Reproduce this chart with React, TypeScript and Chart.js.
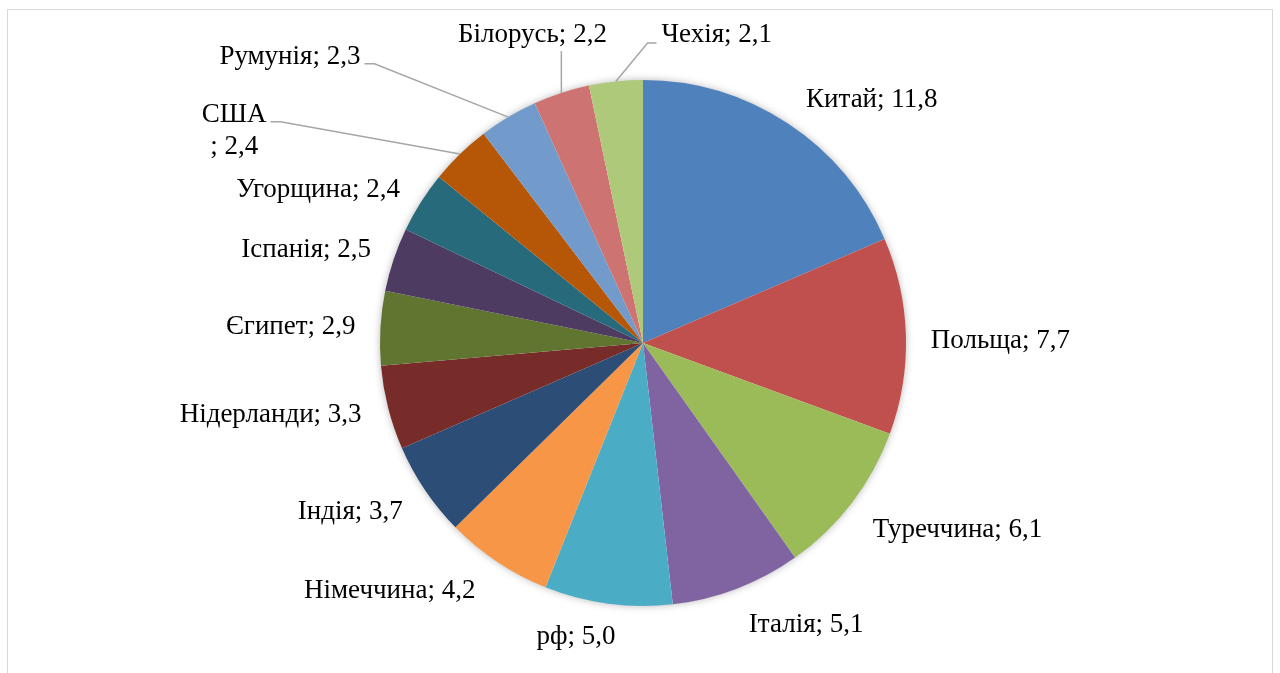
import { useEffect, useRef } from "react";
import { Chart, registerables } from "chart.js";

Chart.register(...registerables);

const countries = [
  "Китай",
  "Польща",
  "Туреччина",
  "Італія",
  "рф",
  "Німеччина",
  "Індія",
  "Нідерланди",
  "Єгипет",
  "Іспанія",
  "Угорщина",
  "США",
  "Румунія",
  "Білорусь",
  "Чехія",
];
const shares = [11.8, 7.7, 6.1, 5.1, 5.0, 4.2, 3.7, 3.3, 2.9, 2.5, 2.4, 2.4, 2.3, 2.2, 2.1];
const sliceColors = [
  "#4F81BD",
  "#C0504D",
  "#9BBB59",
  "#8064A2",
  "#4BACC6",
  "#F79646",
  "#2C4D75",
  "#772C2A",
  "#5F7530",
  "#4D3B62",
  "#276A7C",
  "#B65708",
  "#729ACA",
  "#CD7371",
  "#AFC97A",
];
// label layout tweaks (pixels) applied after default radial placement
const labelNudges: number[][] = [
  [36, 2], [3, 4], [21, 5], [41, 4], [-24, -1], [-48, 0], [-13, 1.5], [-8, -3],
  [-3, -1], [-5, -1], [-15, 3], [-188, -1.5], [-171, -34], [1, -28.5], [109, -15.5],
];
const leaderSides: (string | null)[] = [
  null, null, null, null, null, null, null, null, null, null, null, "left", "left", "bottom", "right",
];
const labelLineBreak: boolean[] = countries.map((c) => c === "США");

const FONT_SIZE = 27;
const FONT = `${FONT_SIZE}px "Liberation Serif", "Times New Roman", serif`;

const fmt = (v: number) => v.toFixed(1).replace(".", ",");

const framePlugin = {
  id: "frame",
  beforeDraw(chart: any) {
    const ctx = chart.ctx;
    ctx.save();
    ctx.fillStyle = "#ffffff";
    ctx.fillRect(0, 0, chart.width, chart.height);
    ctx.strokeStyle = "#D9D9D9";
    ctx.lineWidth = 1;
    ctx.strokeRect(7.5, 9.5, 1265, 700);
    ctx.restore();
  },
};

const shadowPlugin = {
  id: "pieShadow",
  beforeDatasetsDraw(chart: any) {
    const meta = chart.getDatasetMeta(0);
    const arc = meta.data[0];
    if (!arc) return;
    const ctx = chart.ctx;
    ctx.save();
    ctx.shadowColor = "rgba(0,0,0,0.35)";
    ctx.shadowBlur = 9;
    ctx.shadowOffsetX = 0;
    ctx.shadowOffsetY = 0;
    ctx.fillStyle = "#ffffff";
    ctx.beginPath();
    ctx.arc(arc.x, arc.y, arc.outerRadius - 1, 0, Math.PI * 2);
    ctx.fill();
    ctx.restore();
  },
};

const labelPlugin = {
  id: "pieLabels",
  afterDatasetsDraw(chart: any) {
    const meta = chart.getDatasetMeta(0);
    const ctx = chart.ctx;
    ctx.save();
    ctx.font = FONT;
    ctx.fillStyle = "#000000";
    ctx.textAlign = "center";
    ctx.textBaseline = "alphabetic";
    const capHalf = FONT_SIZE * 0.662 / 2;
    const lineGap = 32;
    meta.data.forEach((arc: any, i: number) => {
      const mid = (arc.startAngle + arc.endAngle) / 2;
      const cos = Math.cos(mid);
      const sin = Math.sin(mid);
      const r = arc.outerRadius;
      const R = r + 22;
      const value = fmt(shares[i]);
      const lines = labelLineBreak[i]
        ? [countries[i], "; " + value]
        : [countries[i] + "; " + value];
      const w = Math.max(...lines.map((l) => ctx.measureText(l).width));
      const ax = arc.x + R * cos;
      const ay = arc.y + R * sin;
      const cx = ax + cos * (w / 2) + labelNudges[i][0];
      const cy = ay + sin * 11 + labelNudges[i][1];
      const n = lines.length;
      const firstCy = cy - ((n - 1) * lineGap) / 2;
      lines.forEach((l, k) => {
        ctx.fillText(l, cx, firstCy + k * lineGap + capHalf);
      });
      const side = leaderSides[i];
      if (side) {
        const px = arc.x + r * cos;
        const py = arc.y + r * sin;
        ctx.beginPath();
        ctx.strokeStyle = "#A6A6A6";
        ctx.lineWidth = 1.5;
        if (side === "left") {
          const sx = cx + w / 2 + 4;
          const sy = firstCy + 9;
          ctx.moveTo(sx, sy);
          ctx.lineTo(sx + 10, sy);
          ctx.lineTo(px, py);
        } else if (side === "right") {
          const sx = cx - w / 2 - 5;
          const sy = cy + 10;
          ctx.moveTo(sx, sy);
          ctx.lineTo(sx - 9, sy);
          ctx.lineTo(px, py);
        } else {
          ctx.moveTo(px, cy + 18);
          ctx.lineTo(px, py);
        }
        ctx.stroke();
      }
    });
    ctx.restore();
  },
};

export default function App() {
  const canvasRef = useRef<HTMLCanvasElement | null>(null);
  useEffect(() => {
    const canvas = canvasRef.current;
    if (!canvas) return;
    const chart = new Chart(canvas, {
      type: "pie",
      data: {
        labels: countries,
        datasets: [
          {
            data: shares,
            backgroundColor: sliceColors,
            borderWidth: 0,
            hoverOffset: 0,
          },
        ],
      },
      options: {
        animation: false,
        responsive: false,
        devicePixelRatio: 1,
        layout: { padding: { left: 380, right: 374, top: 80, bottom: 67 } },
        plugins: {
          legend: { display: false },
          tooltip: { enabled: false },
        },
      },
      plugins: [framePlugin, shadowPlugin, labelPlugin],
    });
    return () => chart.destroy();
  }, []);
  return (
    <div style={{ position: "absolute", left: 0, top: 0, width: 1280, height: 673, background: "#fff" }}>
      <canvas ref={canvasRef} width={1280} height={673} style={{ width: 1280, height: 673, display: "block" }} />
    </div>
  );
}
